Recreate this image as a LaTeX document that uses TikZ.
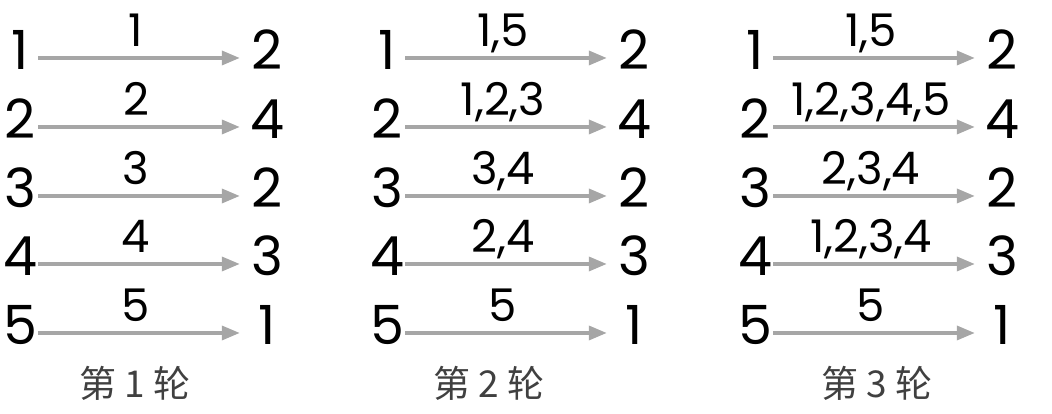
\documentclass[tikz,border=0pt]{standalone}
\usepackage{fontspec}
\setmainfont{Poppins}
\newfontfamily\cjk{Noto Sans CJK SC}
\usetikzlibrary{arrows.meta}
\definecolor{arrgray}{HTML}{A6A6A6}
\definecolor{capgray}{HTML}{404040}
\tikzset{
  lnum/.style={inner sep=0pt, text height=40pt, text depth=16pt, minimum width=36pt, font=\fontsize{54}{54}\selectfont},
  rnum/.style={inner sep=0pt, text height=40pt, text depth=16pt, minimum width=54pt, font=\fontsize{54}{54}\selectfont},
  lab/.style={inner sep=0pt, anchor=base, font=\fontsize{45}{45}\selectfont},
  captxt/.style={inner sep=0pt, anchor=base, text=capgray, font=\cjk\fontsize{37}{37}\selectfont},
  arr/.style={draw=arrgray, line width=3.5pt, -{Triangle[length=18pt,width=14pt]}}
}
\begin{document}
\begin{tikzpicture}[x=1pt,y=1pt]
\useasboundingbox (0,0) rectangle (1052,414);
\foreach \p/\xs/\xe/\cx/\LA/\LB/\LC/\LD/\LE/\RA/\RB/\RC/\RD/\RE in {
  1/38/240/135/1/2/3/4/5/2/4/2/3/1,
  2/405/607/489/{1,5}/{1,2,3}/{3,4}/{2,4}/5/2/4/2/3/1,
  3/773/975/877/{1,5}/{1,2,3,4,5}/{2,3,4}/{1,2,3,4}/5/2/4/2/3/1}{
  \foreach \r/\y/\lab/\rt in {1/356/\LA/\RA, 2/287/\LB/\RB, 3/218/\LC/\RC, 4/150/\LD/\RD, 5/81/\LE/\RE}{
    \node[lnum] (L\p\r) at (\xs-18,\y) {\r};
    \node[rnum] (R\p\r) at (\xe+27,\y) {\rt};
    \draw[arr] (L\p\r) -- (R\p\r);
    \node[lab] (T\p\r) at ({(\xs+\xe)/2-3},\y+11) {\lab};
  }
  \node[captxt] (C\p) at (\cx,16) {第 \p{} 轮};
}
\end{tikzpicture}
\end{document}
